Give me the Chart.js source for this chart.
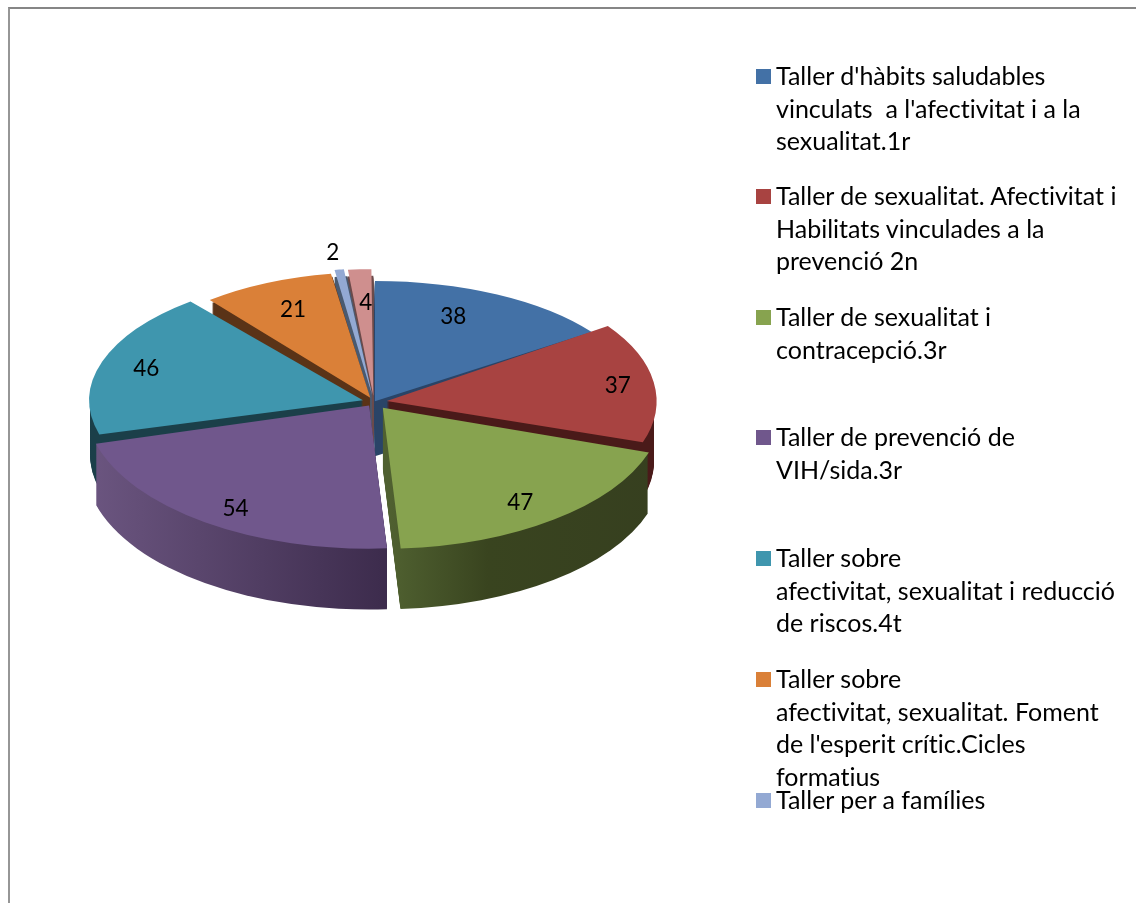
<!DOCTYPE html>
<html>
<head>
<meta charset="utf-8">
<style>
  html, body { margin: 0; padding: 0; background: #fff; overflow: hidden; }
  #frame { position: absolute; left: 8px; top: 7px; width: 1200px; height: 1000px; border-top: 2px solid #868686; border-left: 2px solid #969696; }
  #grafic { position: absolute; left: 0; top: 0; }
  .item { position: absolute; left: 776px; font: 25px/32.7px Lato, sans-serif; font-variant-ligatures: none; color: #000; white-space: nowrap; }
  .swatch { position: absolute; left: -20px; top: 10px; width: 15px; height: 15px; }
</style>
</head>
<body>
<div id="frame"></div>
<canvas id="grafic" width="1136" height="903"></canvas>
<div id="llegenda"></div>
<script src="https://cdn.jsdelivr.net/npm/chart.js@4/dist/chart.umd.min.js"></script>
<script>
// dades
const valors = [38, 37, 47, 54, 46, 21, 2, 4]
const llegendaText = [
  ["Taller d'hàbits saludables", "vinculats  a l'afectivitat i a la", "sexualitat.1r"],
  ["Taller de sexualitat. Afectivitat i", "Habilitats vinculades a la", "prevenció 2n"],
  ["Taller de sexualitat i", "contracepció.3r"],
  ["Taller de prevenció de", "VIH/sida.3r"],
  ["Taller sobre", "afectivitat, sexualitat i reducció", "de riscos.4t"],
  ["Taller sobre", "afectivitat, sexualitat. Foment", "de l'esperit crític.Cicles", "formatius"],
  ["Taller per a famílies"]
]

// colors i estil
const colors = ['#4371A6', '#A84341', '#87A34F', '#70578C', '#3F96AE', '#DA8038', '#93A9D3', '#CF8F8E']
const parets = [
  [[0, '#2a4467'], [1, '#2a4467']],
  [[0, '#4a1a19'], [1, '#4a1a19']],
  [[0, '#4f6030'], [0.35, '#39441f'], [1, '#363f1f']],
  [[0, '#6d5782'], [1, '#3d2c4d']],
  [[0, '#3f96ae'], [0.028, '#3d8fa5'], [0.036, '#1b3f49'], [1, '#1b3f49']],
  [[0, '#5a3317'], [1, '#5a3317']],
  [[0, '#4a5a70'], [1, '#4a5a70']],
  [[0, '#6b4a4a'], [1, '#6b4a4a']]
]
// perspectiva: els trossos del davant son mes grans que els del fons
const desplacament = [8, 52, 56, 32, 46, 40, 56, 56]  // chart.js divideix per 4
const ampleX = [0.98, 0.99, 1.035, 1.05, 1.01, 0.93, 0.93, 0.96]
const aixafat = [0.445, 0.48, 0.52, 0.53, 0.47, 0.457, 0.449, 0.448]
const gruix = [55, 60, 61, 61, 56, 56, 56, 56]
const ajustEtiqueta = [[-1, -15], [59, -3], [27, 23], [-27, 27], [-48, -7], [-11, -15], [-19, -65], [1, -14]]
const llegendaTop = [59, 179, 300, 420, 541, 662, 783]

// llegenda
const llegenda = document.querySelector('#llegenda')
llegendaText.forEach((linies, i) => {
  const item = document.createElement('div')
  item.className = 'item'
  item.style.top = llegendaTop[i] + 'px'
  item.innerHTML = `<span class="swatch" style="background:${colors[i]}"></span>` + linies.map(l => l.replace(/  /g, ' &nbsp;')).join('<br>')
  llegenda.appendChild(item)
})

function aplicarAixafat(ctx, arc, i, baixar) {
  ctx.translate(arc.x, arc.y + baixar)
  ctx.scale(ampleX[i], aixafat[i])
  ctx.translate(-arc.x, -arc.y)
}

function meitat(arc) {
  return (arc.startAngle + arc.endAngle) / 2
}

// gradient horitzontal de la paret, d'una punta a l'altra del tros
function gradientParet(ctx, arc, i) {
  const off = desplacament[i] / 4
  const xs = [arc.x]
  for (let k = 0; k <= 20; k++) {
    xs.push(arc.x + Math.cos(arc.startAngle + (arc.endAngle - arc.startAngle) * k / 20) * arc.outerRadius * ampleX[i])
  }
  const dx = Math.cos(meitat(arc)) * off
  const grad = ctx.createLinearGradient(Math.min(...xs) + dx, 0, Math.max(...xs) + dx, 0)
  parets[i].forEach(p => grad.addColorStop(p[0], p[1]))
  return grad
}

// paret del pastis: el mateix tros repetit cap avall, primer els del fons
const pastis3d = {
  id: 'pastis3d',
  beforeDatasetsDraw(chart) {
    const ctx = chart.ctx
    const arcs = chart.getDatasetMeta(0).data
    const ordre = arcs.map((a, i) => i).sort((a, b) => Math.sin(meitat(arcs[a])) - Math.sin(meitat(arcs[b])))
    ordre.forEach(i => {
      const arc = arcs[i]
      const off = desplacament[i] / 4
      ctx.fillStyle = gradientParet(ctx, arc, i)
      for (let d = gruix[i]; d >= 1; d--) {
        ctx.save()
        aplicarAixafat(ctx, arc, i, d)
        ctx.translate(Math.cos(meitat(arc)) * off, Math.sin(meitat(arc)) * off)
        ctx.beginPath()
        ctx.moveTo(arc.x, arc.y)
        ctx.arc(arc.x, arc.y, arc.outerRadius, arc.startAngle, arc.endAngle)
        ctx.closePath()
        ctx.fill()
        ctx.restore()
      }
    })
  },
  beforeDatasetDraw(chart) {
    const ctx = chart.ctx
    chart.getDatasetMeta(0).data.forEach((arc, i) => {
      ctx.save()
      aplicarAixafat(ctx, arc, i, 0)
      arc.draw(ctx)
      ctx.restore()
    })
    return false
  },
  afterDatasetsDraw(chart) {
    const ctx = chart.ctx
    ctx.save()
    ctx.font = '22.5px Lato, sans-serif'
    ctx.fillStyle = '#000'
    ctx.textAlign = 'center'
    ctx.textBaseline = 'middle'
    chart.getDatasetMeta(0).data.forEach((arc, i) => {
      const a = meitat(arc)
      const off = desplacament[i] / 4
      const r = arc.outerRadius * 0.65
      const x = arc.x + Math.cos(a) * (off + r * ampleX[i]) + ajustEtiqueta[i][0]
      const y = arc.y + Math.sin(a) * (off + r) * aixafat[i] + ajustEtiqueta[i][1]
      ctx.fillText(String(valors[i]), x, y)
    })
    ctx.restore()
  }
}

new Chart(document.querySelector('#grafic'), {
  type: 'pie',
  data: {
    labels: valors.map((v, i) => llegendaText[i] ? llegendaText[i].join(' ') : ''),
    datasets: [{
      data: valors,
      backgroundColor: colors,
      borderWidth: 0,
      offset: desplacament
    }]
  },
  options: {
    responsive: false,
    animation: false,
    events: [],
    radius: 270,
    layout: { padding: { left: 74, right: 462, top: 102, bottom: 201 } },
    plugins: { legend: { display: false }, tooltip: { enabled: false } }
  },
  plugins: [pastis3d]
})
</script>
</body>
</html>
